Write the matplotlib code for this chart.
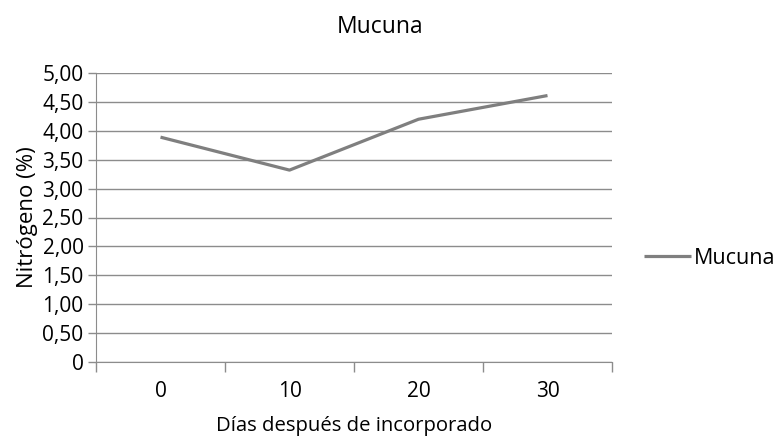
import matplotlib.pyplot as plt
import numpy as np

plt.rcParams['font.family'] = ['Open Sans', 'DejaVu Sans']

# data
dias = ["0", "10", "20", "30"]
nitrogeno = [3.89, 3.32, 4.20, 4.61]
yticks = [0, 0.5, 1.0, 1.5, 2.0, 2.5, 3.0, 3.5, 4.0, 4.5, 5.0]

grey = "#8c8c8c"

fig = plt.figure(figsize=(7.75, 4.38), dpi=100)
ax = fig.add_axes([96/775, 76/438, 516/775, 289/438])

x = np.arange(len(dias))
ax.plot(x, nitrogeno, color="#7f7f7f", lw=2.3, label="Mucuna", solid_capstyle="butt")

ax.set_xlim(-0.5, len(dias) - 0.5)
ax.set_ylim(0, 5)
ax.set_yticks(yticks)
ax.set_yticklabels(["0" if v == 0 else f"{v:.2f}".replace(".", ",") for v in yticks])
ax.yaxis.grid(True, color=grey, lw=1.0)
ax.set_axisbelow(True)

# category labels centered, tick marks between categories
ax.set_xticks(np.arange(-0.5, len(dias)), minor=False)
ax.set_xticklabels([])
ax.set_xticks(x, minor=True)
ax.set_xticklabels(dias, minor=True)
ax.tick_params(axis="x", which="major", length=7, color=grey, width=1)
ax.tick_params(axis="x", which="minor", length=0, pad=14, labelsize=15)
ax.tick_params(axis="y", length=6, color=grey, width=1, labelsize=15, pad=3)

for s in ["top", "right"]:
    ax.spines[s].set_visible(False)
for s in ["left", "bottom"]:
    ax.spines[s].set_color(grey)

ax.set_xlabel("Días después de incorporado", fontsize=14.6, labelpad=10)
ax.set_ylabel("Nitrógeno (%)", fontsize=16, labelpad=3)
fig.text(380/775, 1 - 27/438, "Mucuna", ha="center", va="center", fontsize=16.5)

ax.legend(loc="center left", bbox_to_anchor=(644/775, 1 - 258/438),
          bbox_transform=fig.transFigure, frameon=False, fontsize=15.5,
          handlelength=2.2, handletextpad=0.1, borderaxespad=0, borderpad=0)

fig.savefig("out.png", dpi=100)
